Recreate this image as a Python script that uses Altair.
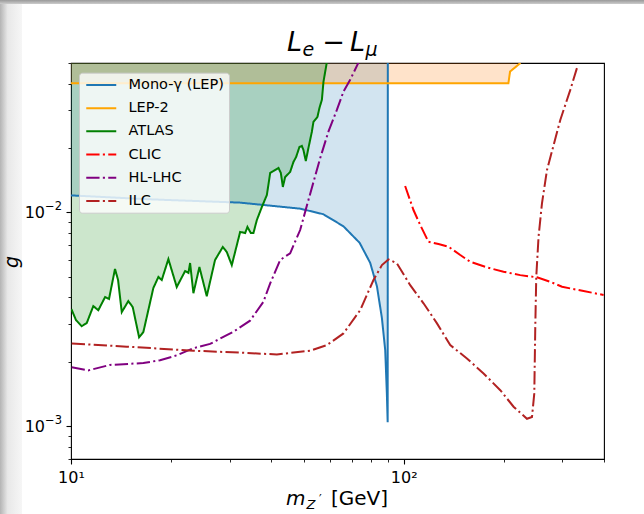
import altair as alt
import pandas as pd

# ---------------- data ----------------
series_names = ["Mono-γ (LEP)", "LEP-2", "ATLAS", "CLIC", "HL-LHC", "ILC"]
series_colors = ["#1f77b4", "#ffa500", "#008000", "#ff0000", "#800080", "#b22222"]

mono_x = [10.0, 17.3, 32.2, 48.8, 57.3, 65.9, 73.7, 79.3, 83.1, 86.0, 88.0, 89.0, 89.5, 89.6]
mono_y = [0.0120, 0.0115, 0.0111, 0.0104, 0.0098, 0.0086, 0.0072, 0.0058, 0.0045, 0.0032,
          0.00226, 0.00142, 0.00104, 0.06]

lep_x = [10.0, 206.4, 208.8, 224.4]
lep_y = [0.0402, 0.0402, 0.0456, 0.0500]

atlas_x = [10.03, 10.35, 10.77, 11.15, 11.67, 12.08, 12.66, 13.01, 13.56, 13.85, 14.21, 14.87,
           15.33, 16.02, 16.50, 17.68, 18.31, 18.74, 19.62, 20.79, 22.03, 22.54, 22.80, 23.33,
           24.32, 25.59, 27.10, 28.59, 29.39, 30.43, 32.24, 33.38, 33.91, 34.72, 35.35, 36.19,
           37.47, 38.79, 39.69, 40.60, 42.03, 42.73, 43.33, 44.02, 45.57, 46.62, 47.50, 48.60,
           49.41, 49.96, 50.79, 51.72, 52.95, 53.54, 55.05, 55.82, 56.76, 57.39, 58.07, 58.76, 59.5]
atlas_y = [0.00352, 0.00313, 0.00293, 0.00303, 0.00364, 0.00348, 0.00401, 0.00393, 0.00543,
           0.00482, 0.00341, 0.00384, 0.00360, 0.00260, 0.00275, 0.00442, 0.00498, 0.00482,
           0.00604, 0.00447, 0.00531, 0.00520, 0.00579, 0.00418, 0.00554, 0.00405, 0.00598,
           0.00688, 0.00652, 0.00566, 0.00809, 0.00800, 0.00854, 0.00800, 0.00800, 0.00920,
           0.01059, 0.01205, 0.01528, 0.01561, 0.01613, 0.01528, 0.01314, 0.01463, 0.01545,
           0.01720, 0.01816, 0.02023, 0.02045, 0.01958, 0.01739, 0.02001, 0.02378, 0.02648,
           0.02796, 0.03082, 0.03359, 0.04079, 0.04544, 0.0505, 0.06]

clic_x = [101.0, 107.0, 112.1, 118.7, 127.2, 136.4, 147.9, 158.5, 177.9, 199.6, 224.0, 251.6,
          275.8, 299.2, 347.3, 399.0]
clic_y = [0.01328, 0.01025, 0.00872, 0.00728, 0.00710, 0.00690, 0.00631, 0.00587, 0.00552,
          0.00527, 0.00508, 0.00496, 0.00473, 0.00448, 0.00428, 0.00410]

hl_x = [10.05, 11.27, 13.10, 16.50, 18.52, 20.79, 23.33, 26.18, 29.39, 30.77, 34.53, 37.87,
        39.69, 42.53, 45.57, 48.84, 51.72, 56.09, 59.39, 62.97, 65.91, 69.04, 73.12]
hl_y = [0.00188, 0.00182, 0.00193, 0.00197, 0.00203, 0.00214, 0.00231, 0.00242, 0.00266,
        0.00276, 0.00311, 0.00381, 0.00465, 0.00598, 0.00643, 0.00826, 0.01142, 0.01791,
        0.02386, 0.03016, 0.03674, 0.04169, 0.0502]

ilc_x = [10.05, 14.71, 23.33, 32.98, 41.56, 52.33, 58.76, 65.91, 73.99, 81.13, 86.01, 90.03,
         95.40, 104.6, 114.7, 125.9, 138.0, 154.9, 173.8, 195.1, 213.9, 234.7, 243.0, 246.9,
         248.6, 250.3, 254.3, 260.4, 269.6, 295.6, 316.8, 332.5]
ilc_y = [0.00243, 0.00235, 0.00225, 0.00220, 0.00216, 0.00225, 0.00239, 0.00271, 0.00348,
         0.00482, 0.00566, 0.00602, 0.00577, 0.00456, 0.00375, 0.00302, 0.00239, 0.00207,
         0.00176, 0.00147, 0.00123, 0.00108, 0.00110, 0.00142, 0.00291, 0.00499, 0.00769,
         0.01102, 0.01578, 0.02707, 0.03742, 0.04797]

x_domain = [10, 400]
y_domain = [7e-4, 5e-2]
x_major = [10, 100]
x_minor = [20, 30, 40, 50, 60, 70, 80, 90, 200, 300, 400]
y_major = [1e-3, 1e-2]
y_major_base = ["10", "10"]
y_major_exp = ["−3", "−2"]
y_minor = [7e-4, 8e-4, 9e-4, 2e-3, 3e-3, 4e-3, 5e-3, 6e-3, 7e-3, 8e-3, 9e-3, 2e-2, 3e-2, 4e-2, 5e-2]

# ---------------- tables ----------------
def frame(name, xs, ys):
    return pd.DataFrame({"series": name, "x": xs, "y": ys, "top": y_domain[1],
                         "idx": list(range(len(xs)))})

mono = frame(series_names[0], mono_x, mono_y)
lep = frame(series_names[1], lep_x, lep_y)
atlas = frame(series_names[2], atlas_x, atlas_y)
clic = frame(series_names[3], clic_x, clic_y)
hl = frame(series_names[4], hl_x, hl_y)
ilc = frame(series_names[5], ilc_x, ilc_y)
lines = pd.concat([mono, lep, atlas, clic, hl, ilc], ignore_index=True)
ylab = pd.DataFrame({"v": y_major, "base": y_major_base, "exp": y_major_exp})

solid = [1, 0]
dashdot = [13.3, 3.3, 2.1, 3.3]
series_dash = [solid, solid, solid, dashdot, dashdot, dashdot]

xs = alt.Scale(type="log", domain=x_domain, nice=False)
ys = alt.Scale(type="log", domain=y_domain, nice=False)

FONT = "DejaVu Sans"

x_major_axis = alt.Axis(values=x_major, labelExpr="datum.value == 10 ? '10¹' : '10²'",
                        tickSize=5, tickWidth=1.1, tickColor="black", labelFontSize=16,
                        labelFont=FONT, labelColor="black", labelPadding=5, domain=False,
                        grid=False, title=None, orient="bottom", labelFlush=False)
x_minor_axis = alt.Axis(values=x_minor, labels=False, tickSize=3, tickWidth=0.85,
                        tickColor="black", domain=False, grid=False, title=None, orient="bottom")
y_major_axis = alt.Axis(values=y_major, labels=False, tickSize=5, tickWidth=1.1,
                        tickColor="black", domain=False, grid=False, title=None, orient="left")
y_minor_axis = alt.Axis(values=y_minor, labels=False, tickSize=3, tickWidth=0.85,
                        tickColor="black", domain=False, grid=False, title=None, orient="left")

# ---------------- decoration (screenshot edge shading) ----------------
one = pd.DataFrame({"a": [0]})
left_edge = alt.Chart(one).mark_rect(
    fill={"gradient": "linear", "x1": 0, "x2": 1, "y1": 0, "y2": 0,
          "stops": [{"offset": 0, "color": "#b4b4b4"}, {"offset": 0.35, "color": "#e8e8e8"},
                    {"offset": 1, "color": "#f6f6f6"}]}
).encode(x=alt.value(-71), x2=alt.value(-49), y=alt.value(-63), y2=alt.value(451))
top_edge = alt.Chart(one).mark_rect(
    fill={"gradient": "linear", "x1": 0, "x2": 0, "y1": 0, "y2": 1,
          "stops": [{"offset": 0, "color": "#999999"}, {"offset": 1, "color": "#cccccc"}]}
).encode(x=alt.value(-71), x2=alt.value(573), y=alt.value(-63), y2=alt.value(-59))

# ---------------- fills ----------------
mono_fill = alt.Chart(mono).mark_area(color="#1f77b4", fillOpacity=0.2, clip=True).encode(
    x=alt.X("x:Q", scale=xs, axis=x_major_axis),
    y=alt.Y("y:Q", scale=ys, axis=y_major_axis),
    y2=alt.Y2("top:Q"))
lep_fill = alt.Chart(lep).mark_area(color="#ff7f0e", fillOpacity=0.22, clip=True).encode(
    x=alt.X("x:Q", scale=xs, axis=x_minor_axis),
    y=alt.Y("y:Q", scale=ys, axis=y_minor_axis),
    y2=alt.Y2("top:Q"))
atlas_fill = alt.Chart(atlas).mark_area(color="#008000", fillOpacity=0.2, clip=True).encode(
    x=alt.X("x:Q", scale=xs, axis=None),
    y=alt.Y("y:Q", scale=ys, axis=None),
    y2=alt.Y2("top:Q"))

legend = alt.Legend(orient="none", legendX=8, legendY=9.7, title=None,
                    symbolType="M-1,0H5", symbolSize=100, symbolStrokeWidth=2,
                    symbolFillColor="transparent",
                    labelFontSize=14.5, labelFont=FONT, labelColor="black", labelOffset=30,
                    rowPadding=8.2, padding=5,
                    fillColor="rgba(255,255,255,0.8)", strokeColor="#cccccc", cornerRadius=3,
                    labelLimit=300)

line_layer = alt.Chart(lines).mark_line(strokeWidth=2, clip=True).encode(
    x=alt.X("x:Q", scale=xs, axis=None),
    y=alt.Y("y:Q", scale=ys, axis=None),
    color=alt.Color("series:N", scale=alt.Scale(domain=series_names, range=series_colors),
                    legend=legend, sort=series_names),
    strokeDash=alt.StrokeDash("series:N", scale=alt.Scale(domain=series_names, range=series_dash),
                              legend=legend, sort=series_names),
    order="idx:Q")

# y tick labels "10^-n" placed through the y scale
ylab_base = alt.Chart(ylab).mark_text(font=FONT, fontSize=16, align="right", baseline="middle",
                                      color="black", dy=1).encode(
    y=alt.Y("v:Q", scale=ys, axis=None), x=alt.value(-26), text="base:N")
ylab_exp = alt.Chart(ylab).mark_text(font=FONT, fontSize=11.5, align="right", baseline="middle",
                                     color="black", dy=-5).encode(
    y=alt.Y("v:Q", scale=ys, axis=None), x=alt.value(-9), text="exp:N")

# ---------------- math-style texts ----------------
def txt(s, x, y, size, italic=False, align="left", angle=0, baseline="alphabetic"):
    kw = dict(text=s, fontSize=size, font=FONT, align=align, baseline=baseline, color="black")
    if italic:
        kw["fontStyle"] = "italic"
    if angle:
        kw["angle"] = angle
    return alt.Chart(one).mark_text(**kw).encode(x=alt.value(x), y=alt.value(y))

texts = [
    txt("L", 216, -12, 27, italic=True),
    txt("e", 231.5, -7.5, 19, italic=True),
    txt("−", 262.5, -12, 27, align="center"),
    txt("L", 279, -12, 27, italic=True),
    txt("μ", 294.5, -7.5, 19, italic=True),
    txt("m", 215, 442, 20, italic=True),
    txt("Z", 235.5, 446, 13, italic=True),
    txt("′", 248, 440, 12),
    txt("[GeV]", 260, 442, 20),
    txt("g", -59, 199, 19, italic=True, align="center", angle=270, baseline="middle"),
]

chart = alt.layer(
    left_edge, top_edge, mono_fill, lep_fill, atlas_fill, line_layer, ylab_base, ylab_exp, *texts
).resolve_axis(x="independent", y="independent").properties(
    width=533, height=396,
    autosize=alt.AutoSizeParams(type="none"),
    padding={"left": 71, "top": 63, "right": 40, "bottom": 55},
    background="white",
).configure_view(stroke="black", strokeWidth=1.1)

chart.save("out.html", embed_options={"renderer": "svg", "actions": False})
